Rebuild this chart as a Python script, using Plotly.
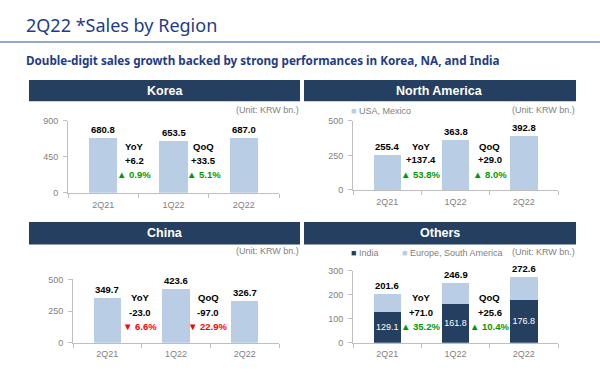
import plotly.graph_objects as go

# ---------------- data ----------------
quarters = ["2Q21", "1Q22", "2Q22"]
korea_sales = [680.8, 653.5, 687.0]
na_sales = [255.4, 363.8, 392.8]
china_sales = [349.7, 423.6, 326.7]
others_india = [129.1, 161.8, 176.8]
others_europe_sa = [72.5, 85.1, 95.8]
others_total = [201.6, 246.9, 272.6]

korea_yoy = ["YoY", "+6.2", "▲ 0.9%"]
korea_qoq = ["QoQ", "+33.5", "▲ 5.1%"]
na_yoy = ["YoY", "+137.4", "▲ 53.8%"]
na_qoq = ["QoQ", "+29.0", "▲ 8.0%"]
china_yoy = ["YoY", "-23.0", "▼ 6.6%"]
china_qoq = ["QoQ", "-97.0", "▼ 22.9%"]
others_yoy = ["YoY", "+71.0", "▲ 35.2%"]
others_qoq = ["QoQ", "+25.6", "▲ 10.4%"]

korea_ticks = [0, 450, 900]
na_ticks = [0, 250, 500]
china_ticks = [0, 250, 500]
others_ticks = [0, 100, 200, 300]

# ---------------- style ----------------
W, H = 600, 373
LIGHT = "#b9cde5"
NAVY = "#243f60"
TITLE_BLUE = "#1f3c88"
GRAY_TXT = "#7f7f7f"
AXIS = "#bfbfbf"
GREEN = "#009a00"
RED = "#ff0000"
CHART_FONT = "Liberation Sans"
HEAD_FONT = "Noto Sans"


def px(x):
    return x / W


def py(y):
    return 1 - y / H


fig = go.Figure()

panels = [
    dict(n="", xa="x", ya="y", x0=68, x1=279, yb=193, yt=119, rmax=900, ticks=korea_ticks),
    dict(n="2", xa="x2", ya="y2", x0=353, x1=558, yb=190, yt=119, rmax=500, ticks=na_ticks),
    dict(n="3", xa="x3", ya="y3", x0=73, x1=279, yb=347, yt=282, rmax=500, ticks=china_ticks),
    dict(n="4", xa="x4", ya="y4", x0=353, x1=558, yb=347, yt=273, rmax=300, ticks=others_ticks),
]

for p in panels:
    fig.update_layout(**{
        "xaxis" + p["n"]: dict(
            domain=[px(p["x0"]), px(p["x1"])], anchor=p["ya"], type="category",
            range=[-0.5, 2.5], showline=True, linecolor=AXIS, linewidth=1,
            ticks="outside", tickson="boundaries", ticklen=4, tickcolor=AXIS,
            ticklabelstandoff=3,
            tickfont=dict(family=CHART_FONT, size=9, color=GRAY_TXT),
            showgrid=False, fixedrange=True),
        "yaxis" + p["n"]: dict(
            domain=[py(p["yb"]), py(p["yt"])], anchor=p["xa"],
            range=[0, p["rmax"]], tickvals=p["ticks"], showline=True,
            linecolor=AXIS, linewidth=1, ticks="outside", ticklen=4,
            tickcolor=AXIS, showgrid=False, zeroline=False, ticklabelstandoff=3,
            tickfont=dict(family=CHART_FONT, size=9, color=GRAY_TXT),
            fixedrange=True),
    })

bar_w = 0.4
fig.add_trace(go.Bar(x=quarters, y=korea_sales, width=bar_w, marker_color=LIGHT,
                     marker_line_width=0, xaxis="x", yaxis="y", showlegend=False))
fig.add_trace(go.Bar(x=quarters, y=na_sales, width=bar_w, marker_color=LIGHT,
                     marker_line_width=0, xaxis="x2", yaxis="y2", showlegend=False))
fig.add_trace(go.Bar(x=quarters, y=china_sales, width=bar_w, marker_color=LIGHT,
                     marker_line_width=0, xaxis="x3", yaxis="y3", showlegend=False))
fig.add_trace(go.Bar(x=quarters, y=others_india, width=bar_w, marker_color=NAVY,
                     marker_line_width=0,
                     text=[f"{v:.1f}" for v in others_india], textposition="inside",
                     insidetextanchor="middle", constraintext="none", textangle=0,
                     textfont=dict(family=CHART_FONT, size=9, color="white"),
                     xaxis="x4", yaxis="y4", showlegend=False))
fig.add_trace(go.Bar(x=quarters, y=others_europe_sa, width=bar_w, marker_color=LIGHT,
                     marker_line_width=0,
                     xaxis="x4", yaxis="y4", showlegend=False))
fig.update_layout(barmode="stack")

ann = []
# value labels above bars
for xa, ya, vals in [("x", "y", korea_sales), ("x2", "y2", na_sales),
                     ("x3", "y3", china_sales), ("x4", "y4", others_total)]:
    for q, v in zip(quarters, vals):
        ann.append(dict(x=q, y=v, xref=xa, yref=ya, text=f"<b>{v:.1f}</b>",
                        showarrow=False, xanchor="center", yanchor="bottom", yshift=1,
                        font=dict(family=CHART_FONT, size=9.5, color="black")))

# YoY / QoQ blocks
blocks = [
    ("x", 0.5, korea_yoy, (145, 160, 174), -4),
    ("x", 1.5, korea_qoq, (145, 160, 174), -5),
    ("x2", 0.5, na_yoy, (145, 159, 174), 0),
    ("x2", 1.5, na_qoq, (145, 159, 174), 0),
    ("x3", 0.5, china_yoy, (301, 316, 330), -2),
    ("x3", 1.5, china_qoq, (301, 316, 330), -2),
    ("x4", 0.5, others_yoy, (301, 316, 330), 0),
    ("x4", 1.5, others_qoq, (301, 316, 330), 0),
]
for xa, xv, lines, ys, xs in blocks:
    for i, (t, yy) in enumerate(zip(lines, ys)):
        if i < 2:
            col = "black"
        else:
            col = GREEN if t.startswith("▲") else RED
        ann.append(dict(x=xv, y=py(yy), xref=xa, yref="paper", text=f"<b>{t}</b>",
                        showarrow=False, xshift=xs, xanchor="center", yanchor="middle",
                        font=dict(family=CHART_FONT, size=9.5, color=col)))

# headers
shapes = []
headers = [("Korea", 29, 300, 77, 99), ("North America", 304, 576, 77, 99),
           ("China", 29, 300, 223, 246), ("Others", 304, 576, 223, 246)]
for name, x0, x1, y0, y1 in headers:
    shapes.append(dict(type="rect", xref="paper", yref="paper", x0=px(x0), x1=px(x1),
                       y0=py(y1), y1=py(y0), fillcolor=NAVY, line_width=0, layer="below"))
    ann.append(dict(x=px((x0 + x1) / 2), y=py((y0 + y1) / 2), xref="paper", yref="paper",
                    text=f"<b>{name}</b>", showarrow=False,
                    xanchor="center", yanchor="middle",
                    font=dict(family=CHART_FONT, size=12.5, color="white")))

# unit labels
for xr, yy in [(301, 108), (577, 108), (301, 253), (577, 254)]:
    ann.append(dict(x=px(xr), y=py(yy), xref="paper", yref="paper",
                    xanchor="right", yanchor="middle",
                    text="(Unit: KRW bn.)", showarrow=False,
                    font=dict(family=CHART_FONT, size=9, color=GRAY_TXT)))

# legends
legend_items = [("USA, Mexico", LIGHT, 349, 109), ("India", NAVY, 349, 255),
                ("Europe, South America", LIGHT, 400, 255)]
for label, col, xx, yy in legend_items:
    ann.append(dict(x=px(xx), y=py(yy), xref="paper", yref="paper",
                    xanchor="left", yanchor="middle",
                    text=f"<span style='color:{col}'>■</span> {label}", showarrow=False,
                    font=dict(family=CHART_FONT, size=9, color=GRAY_TXT)))

# title + subtitle
ann.append(dict(x=px(24), y=py(21), xref="paper", yref="paper",
                xanchor="left", yanchor="middle",
                text="2Q22 *Sales by Region", showarrow=False,
                font=dict(family=HEAD_FONT, size=18, color=TITLE_BLUE)))
ann.append(dict(x=px(24), y=py(57), xref="paper", yref="paper",
                xanchor="left", yanchor="middle",
                text="<b>Double-digit sales growth backed by strong performances in Korea, NA, and India</b>",
                showarrow=False, font=dict(family=HEAD_FONT, size=11.7, color=TITLE_BLUE)))
shapes.append(dict(type="line", xref="paper", yref="paper", x0=0, x1=1,
                   y0=py(38), y1=py(38), line=dict(color="#2f5597", width=1.2)))

fig.update_layout(width=W, height=H, margin=dict(l=0, r=0, t=0, b=0),
                  paper_bgcolor="white", plot_bgcolor="white",
                  annotations=ann, shapes=shapes, showlegend=False)

fig.write_html("out.html", config={"displayModeBar": False},
               post_script="document.body.style.margin='0';document.body.style.overflow='hidden';")
